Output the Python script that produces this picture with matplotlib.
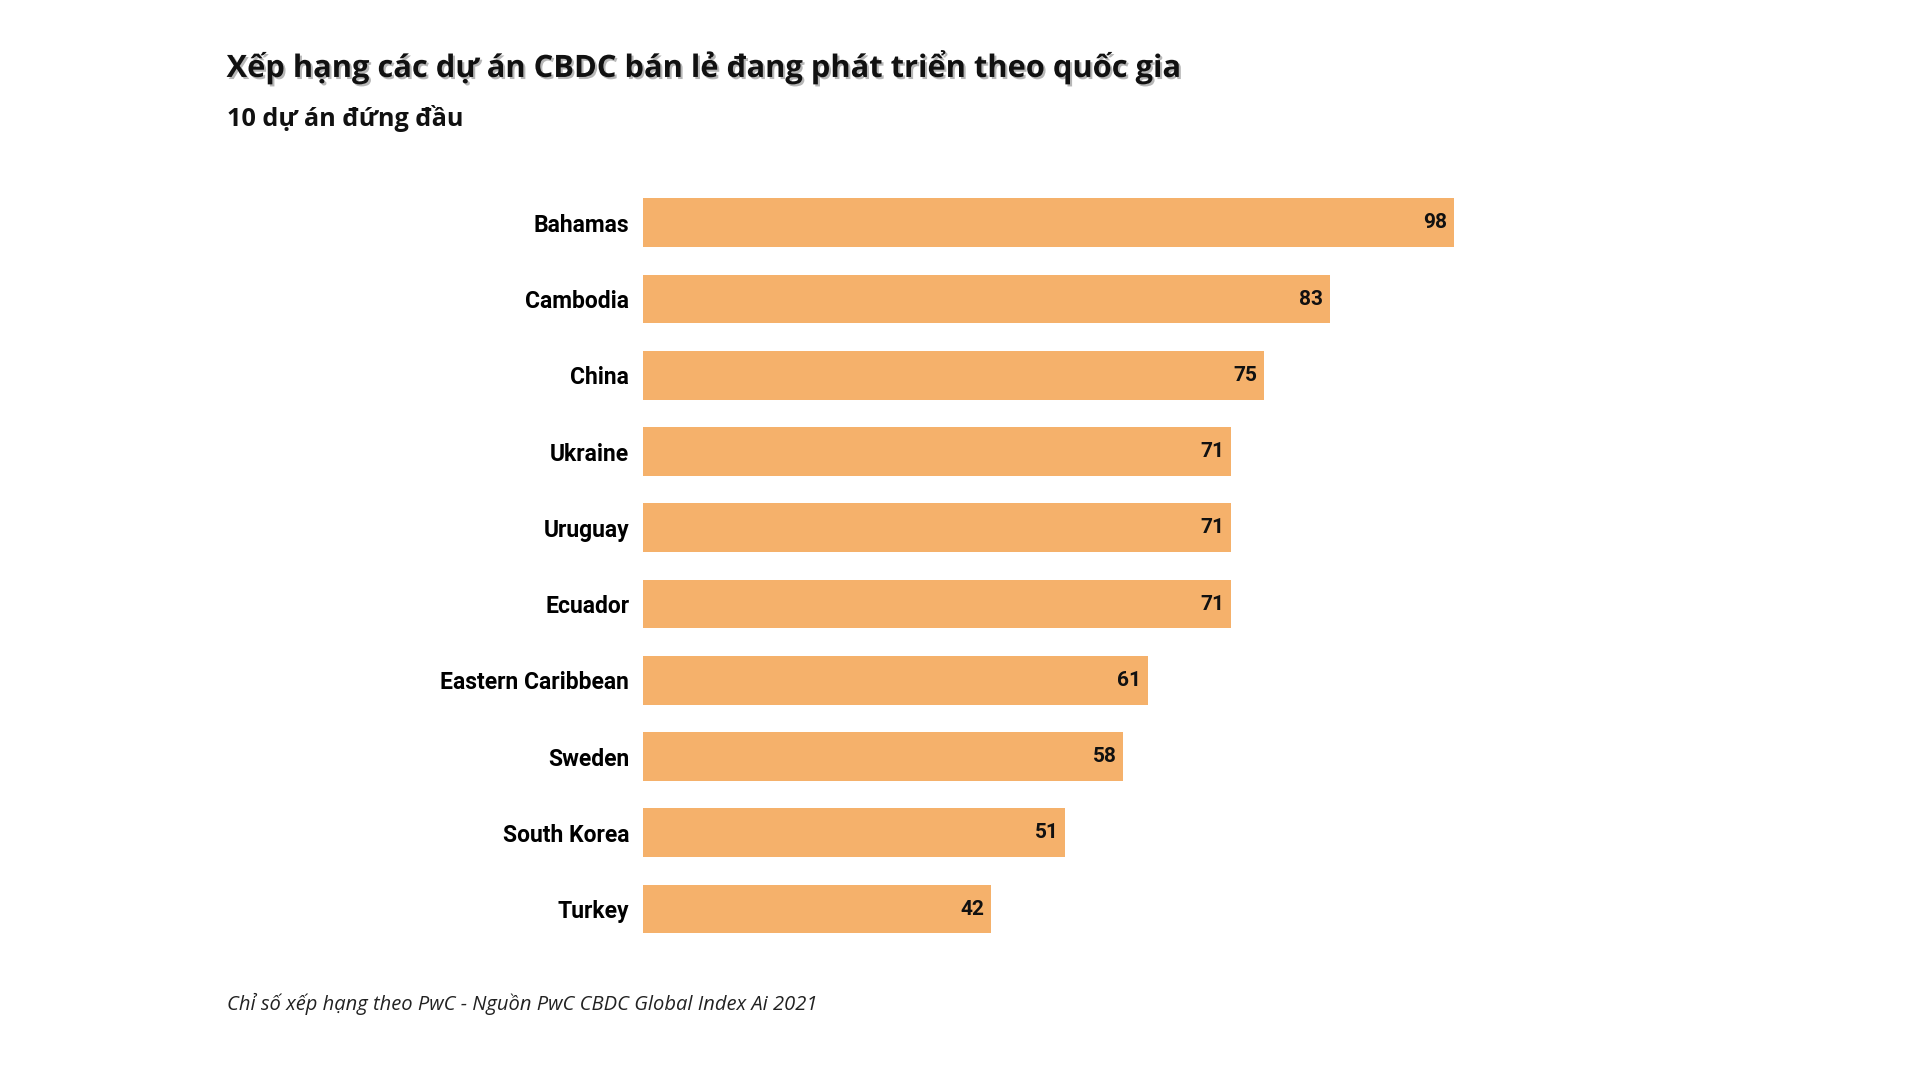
import matplotlib.pyplot as plt
import matplotlib.patheffects as pe

countries = ['Bahamas', 'Cambodia', 'China', 'Ukraine', 'Uruguay', 'Ecuador',
             'Eastern Caribbean', 'Sweden', 'South Korea', 'Turkey']
scores = [98, 83, 75, 71, 71, 71, 61, 58, 51, 42]

title = 'Xếp hạng các dự án CBDC bán lẻ đang phát triển theo quốc gia'
subtitle = '10 dự án đứng đầu'
footer = 'Chỉ số xếp hạng theo PwC - Nguồn PwC CBDC Global Index Ai 2021'

bar_color = '#F5B16B'

fig = plt.figure(figsize=(19.2, 10.8), dpi=100)
ax = fig.add_axes([0.335, 0.123, 0.431, 0.706])

y = list(range(len(countries)))
ax.barh(y, scores, height=0.64, color=bar_color)
ax.set_xlim(0, 100)
ax.set_ylim(len(countries) - 0.5, -0.5)

for yi, v in zip(y, scores):
    ax.text(v - 0.8, yi, str(v), ha='right', va='center',
            fontsize=15, fontweight='bold', family='Roboto', color='#111111')

ax.set_yticks(y)
ax.set_yticklabels(countries, fontsize=16.5, fontweight='bold', family='Roboto')
ax.tick_params(axis='y', length=0, pad=10)
ax.set_xticks([])
for s in ax.spines.values():
    s.set_visible(False)

fig.text(0.118, 0.938, title, fontsize=22.2, fontweight='bold', family='Open Sans',
         va='center', ha='left', color='#111111',
         path_effects=[pe.withSimplePatchShadow(offset=(1.5, -1.5), shadow_rgbFace='#888888', alpha=0.6)])
fig.text(0.118, 0.890, subtitle, fontsize=18.2, fontweight='bold', family='Open Sans',
         va='center', ha='left', color='#111111')
fig.text(0.118, 0.070, footer, fontsize=14.5, style='italic', family='Open Sans',
         va='center', ha='left', color='#222222')

fig.savefig('out.png', dpi=100, facecolor='white')
